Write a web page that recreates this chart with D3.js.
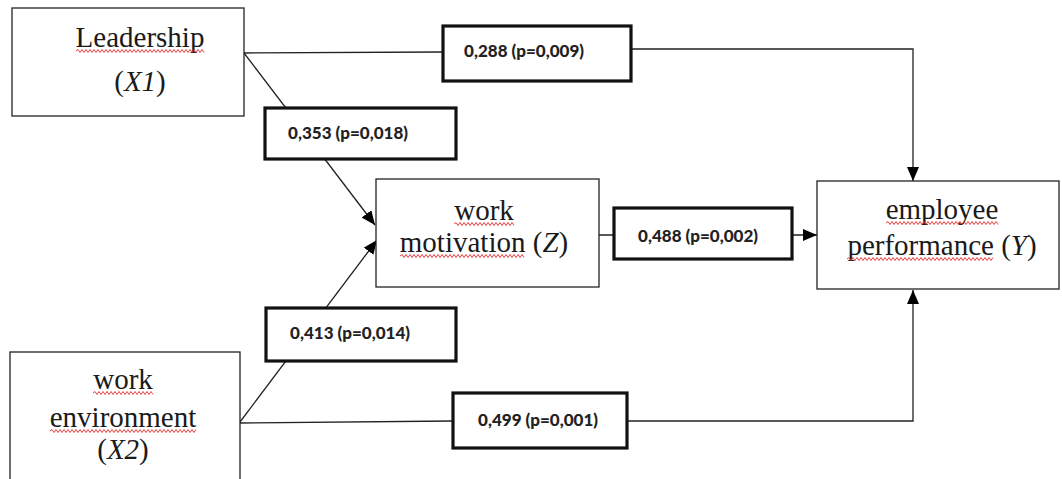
<!DOCTYPE html>
<html>
<head>
<meta charset="utf-8">
<script src="https://cdn.jsdelivr.net/npm/d3@7"></script>
<style>
  body { margin: 0; background: #fff; }
  svg { display: block; }
  .serif { font-family: "Liberation Serif", "DejaVu Serif", "Times New Roman", serif; }
  .coef-text { font-family: Lato, "Open Sans", sans-serif; }
</style>
</head>
<body>
<svg id="canvas" width="1062" height="479"></svg>
<script>
// variables of the model
const nodeCodes = ['X1', 'X2', 'Z', 'Y'];
const nodeLines = [
  ['Leadership', '(X1)'],
  ['work', 'environment', '(X2)'],
  ['work', 'motivation (Z)'],
  ['employee', 'performance (Y)']
];

// paths with coefficient and p value
const pathFrom = ['X1', 'X1', 'X2', 'X2', 'Z'];
const pathTo = ['Y', 'Z', 'Z', 'Y', 'Y'];
const coefficients = [0.288, 0.353, 0.413, 0.499, 0.488];
const pValues = [0.009, 0.018, 0.014, 0.001, 0.002];

// layout of the boxes (pixels)
const nodeBox = {
  X1: { x: 12, y: 8, w: 232, h: 108, cx: 140, base: [47, 91] },
  X2: { x: 10, y: 352, w: 230, h: 160, cx: 123, base: [389, 427, 459] },
  Z: { x: 376, y: 179, w: 223, h: 108, cx: 484, base: [220, 252] },
  Y: { x: 817, y: 181, w: 242, h: 108, cx: 942, base: [219, 255] }
};
const labelBox = [
  { x: 443, y: 26, w: 188, h: 55, tx: 524, ty: 57 },
  { x: 265, y: 108, w: 191, h: 51, tx: 348, ty: 139 },
  { x: 266, y: 308, w: 190, h: 53, tx: 350, ty: 339 },
  { x: 453, y: 393, w: 174, h: 55, tx: 538, ty: 426 },
  { x: 614, y: 208, w: 178, h: 51, tx: 698, ty: 242 }
];
const routes = [
  [[244, 53], [443, 52], null, [631, 49], [913, 49], [913, 181]],
  [[244, 53], [375, 225]],
  [[240, 422], [377, 240]],
  [[240, 423], [453, 421], null, [627, 421], [913, 421], [913, 290]],
  [[599, 235], [614, 235], null, [792, 235], [817, 235]]
];

const fmt = (v) => d3.format('.3f')(v).replace('.', ',');

const svg = d3.select('#canvas');

svg.append('defs')
  .append('marker')
  .attr('id', 'arrow')
  .attr('viewBox', '0 0 14 12')
  .attr('refX', 14)
  .attr('refY', 6)
  .attr('markerWidth', 14)
  .attr('markerHeight', 12)
  .attr('markerUnits', 'userSpaceOnUse')
  .attr('orient', 'auto')
  .append('path')
  .attr('d', 'M0,0 L14,6 L0,12 Z')
  .attr('fill', '#000');

// edges, split at the coefficient boxes
let line = d3.line().defined((d) => d !== null);
svg.selectAll('path.edge')
  .data(routes)
  .enter()
  .append('path')
  .attr('class', 'edge')
  .attr('d', (r) => line(r))
  .attr('fill', 'none')
  .attr('stroke', '#222')
  .attr('stroke-width', 1.3)
  .attr('marker-end', 'url(#arrow)');

// variable boxes
let nodes = svg.selectAll('g.node')
  .data(nodeCodes)
  .enter()
  .append('g')
  .attr('class', 'node');

nodes.append('rect')
  .attr('x', (d) => nodeBox[d].x)
  .attr('y', (d) => nodeBox[d].y)
  .attr('width', (d) => nodeBox[d].w)
  .attr('height', (d) => nodeBox[d].h)
  .attr('fill', '#fff')
  .attr('stroke', '#222')
  .attr('stroke-width', 1.3);

let wavy = (x0, x1, y) => {
  let p = 'M' + x0 + ',' + y;
  let up = true;
  for (let x = x0 + 2; x <= x1; x += 2) {
    p += ' L' + x + ',' + (up ? y - 1.5 : y + 1.5);
    up = !up;
  }
  return p;
};

nodes.each(function (code, i) {
  let g = d3.select(this);
  let box = nodeBox[code];
  nodeLines[i].forEach((txt, j) => {
    let t = g.append('text')
      .attr('class', 'serif')
      .attr('x', box.cx)
      .attr('y', box.base[j])
      .attr('text-anchor', 'middle')
      .attr('font-size', 29)
      .attr('fill', '#1a1a1a');
    let m = txt.match(/^(.*?)\((.+)\)$/);
    let word = m ? m[1] : txt;
    if (word.length) t.append('tspan').text(word);
    if (m) {
      t.append('tspan').text('(');
      t.append('tspan').attr('font-style', 'italic').text(m[2]);
      t.append('tspan').text(')');
    }
    // red spell-check squiggle under the words
    let w = word.trim();
    if (w.length) {
      let node = t.node();
      let x0 = node.getStartPositionOfChar(0).x;
      let x1 = node.getEndPositionOfChar(w.length - 1).x;
      g.append('path')
        .attr('d', wavy(Math.round(x0), Math.round(x1), box.base[j] + 4))
        .attr('fill', 'none')
        .attr('stroke', '#e52b2b')
        .attr('stroke-width', 0.9);
    }
  });
});

// coefficient boxes
let labels = svg.selectAll('g.coef')
  .data(coefficients)
  .enter()
  .append('g')
  .attr('class', 'coef');

labels.append('rect')
  .attr('x', (d, i) => labelBox[i].x)
  .attr('y', (d, i) => labelBox[i].y)
  .attr('width', (d, i) => labelBox[i].w)
  .attr('height', (d, i) => labelBox[i].h)
  .attr('fill', '#fff')
  .attr('stroke', '#111')
  .attr('stroke-width', 3.2);

labels.append('text')
  .attr('class', 'coef-text')
  .attr('x', (d, i) => labelBox[i].tx)
  .attr('y', (d, i) => labelBox[i].ty)
  .attr('text-anchor', 'middle')
  .attr('font-weight', 900)
  .attr('font-size', 17)
  .attr('fill', '#222')
  .text((d, i) => fmt(d) + ' (p=' + fmt(pValues[i]) + ')');
</script>
</body>
</html>
